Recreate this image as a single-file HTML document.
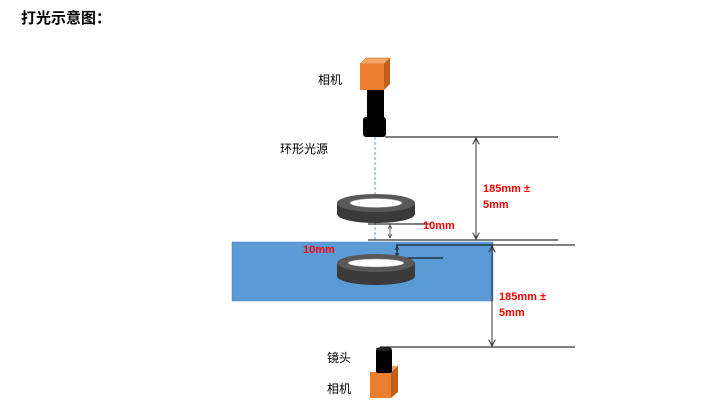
<!DOCTYPE html>
<html><head><meta charset="utf-8"><style>
html,body{margin:0;padding:0;background:#fff;}
svg{display:block}
text{font-family:"Liberation Sans","Noto Sans CJK SC",sans-serif;}
</style></head><body>
<svg width="721" height="416" viewBox="0 0 721 416" xmlns="http://www.w3.org/2000/svg">
<defs>
<marker id="a" viewBox="0 0 10 10" refX="9" refY="5" markerUnits="userSpaceOnUse" markerWidth="8" markerHeight="8" orient="auto-start-reverse"><path d="M1,1 L9,5 L1,9" fill="none" stroke="#333" stroke-width="1.3"/></marker>
<marker id="s" viewBox="0 0 10 10" refX="9" refY="5" markerUnits="userSpaceOnUse" markerWidth="5" markerHeight="6" orient="auto-start-reverse"><path d="M1,1 L9,5 L1,9" fill="none" stroke="#333" stroke-width="1.5"/></marker>
</defs>
<text x="21" y="23" font-size="15" font-weight="bold" fill="#000">打光示意图：</text>

<!-- top camera -->
<polygon points="360,64 366,58 390,58 384,64" fill="#f4a460" stroke="#c0601a" stroke-width="0.5"/>
<polygon points="384,64 390,58 390,84 384,90" fill="#c0601a"/>
<rect x="360" y="64" width="24" height="26" fill="#ed7d31"/>
<rect x="367" y="90" width="17" height="28" fill="#000"/>
<rect x="363" y="117" width="23" height="20" rx="3" fill="#000"/>
<text x="318" y="84" font-size="12" fill="#000">相机</text>
<text x="280" y="153" font-size="12" fill="#000">环形光源</text>
<line x1="385" y1="137" x2="558" y2="137" stroke="#000" stroke-width="1"/>
<line x1="375" y1="137" x2="375" y2="242" stroke="#5b9bd5" stroke-width="1" stroke-dasharray="3,2"/>

<!-- ring 1 -->
<path d="M337,203 L337,214 A39,9 0 0 0 415,214 L415,203 Z" fill="#3a3a3a"/>
<ellipse cx="376" cy="203" rx="39" ry="9" fill="#595959"/>
<ellipse cx="376" cy="203" rx="26" ry="4.5" fill="#fff" stroke="#999" stroke-width="0.5"/>

<line x1="368" y1="224" x2="430" y2="224" stroke="#000"/>
<text x="423" y="229" font-size="11" font-weight="bold" fill="#ff0000">10mm</text>
<line x1="390" y1="225" x2="390" y2="238" stroke="#666" marker-start="url(#s)" marker-end="url(#s)"/>
<line x1="368" y1="240" x2="558" y2="240" stroke="#000"/>
<line x1="476" y1="138" x2="476" y2="239" stroke="#333" marker-start="url(#a)" marker-end="url(#a)"/>
<text x="483" y="192" font-size="11" font-weight="bold" fill="#ff0000">185mm ±</text>
<text x="483" y="208" font-size="11" font-weight="bold" fill="#ff0000">5mm</text>

<!-- blue plate -->
<rect x="232" y="242" width="261" height="59" fill="#5b9bd5" stroke="#4a86c0" stroke-width="0.5"/>
<line x1="396" y1="245" x2="575" y2="245" stroke="#000"/>
<text x="303" y="253" font-size="11" font-weight="bold" fill="#ff0000">10mm</text>
<line x1="397" y1="246" x2="397" y2="257" stroke="#000" marker-start="url(#s)" marker-end="url(#s)"/>
<line x1="386" y1="258" x2="443" y2="258" stroke="#000"/>

<!-- ring 2 -->
<path d="M337,263 L337,276 A39,9 0 0 0 415,276 L415,263 Z" fill="#3a3a3a"/>
<ellipse cx="376" cy="263" rx="39" ry="9" fill="#595959"/>
<ellipse cx="376" cy="263" rx="28" ry="4" fill="#fff" stroke="#999" stroke-width="0.5"/>

<line x1="492" y1="246" x2="492" y2="346" stroke="#333" marker-start="url(#a)" marker-end="url(#a)"/>
<text x="499" y="300" font-size="11" font-weight="bold" fill="#ff0000">185mm ±</text>
<text x="499" y="316" font-size="11" font-weight="bold" fill="#ff0000">5mm</text>
<line x1="380" y1="347" x2="575" y2="347" stroke="#000"/>

<!-- bottom camera -->
<polygon points="384,372 391,366 398,366 391,372" fill="#f4a460"/>
<polygon points="391,372 398,366 398,392 391,398" fill="#c0601a"/>
<rect x="370" y="372" width="21" height="26" fill="#ed7d31"/>
<rect x="376" y="349" width="16" height="24" rx="2" fill="#000"/>
<ellipse cx="384" cy="349" rx="8" ry="2" fill="#222"/>
<text x="327" y="362" font-size="12" fill="#000">镜头</text>
<text x="327" y="393" font-size="12" fill="#000">相机</text>
</svg>
</body></html>
